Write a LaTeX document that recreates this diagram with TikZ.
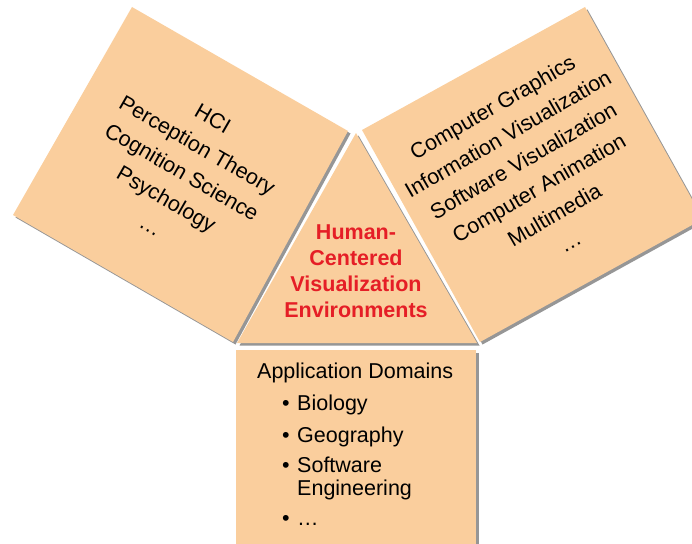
\documentclass[tikz,border=0pt]{standalone}
\usepackage{fontspec}
\setmainfont{Liberation Sans}
\definecolor{peach}{RGB}{250,206,157}
\definecolor{shade}{RGB}{150,150,150}
\definecolor{hcred}{RGB}{229,30,38}
\begin{document}
\begin{tikzpicture}[x=1pt,y=-1pt,
  panel/.style={fill=peach},
  shadowed/.style={fill=shade, shift={(2.5,2.5)}},
  body/.style={font=\fontsize{21.5}{31}\selectfont, align=center, inner sep=0pt},
  core/.style={font=\fontsize{21.5}{26}\selectfont\bfseries, align=center, inner sep=0pt, text=hcred},
  item/.style={font=\fontsize{21.5}{24}\selectfont, inner sep=0pt, anchor=base west}]
\useasboundingbox (0,0) rectangle (692,543);
\clip (0,0) rectangle (692,543);
% shadows
\fill[shadowed] (132,7) -- (13,215) -- (233,342) -- (348,131) -- cycle;
\fill[shadowed] (585,7) -- (362,130) -- (480,342) -- (703,219) -- cycle;
\fill[shadowed] (356,133) -- (237,343) -- (477,343) -- cycle;
\fill[shadowed] (236,350) rectangle (476,560);
% panels
\fill[panel] (132,7) -- (13,215) -- (233,342) -- (348,131) -- cycle;
\fill[panel] (585,7) -- (362,130) -- (480,342) -- (703,219) -- cycle;
\fill[panel] (356,133) -- (237,343) -- (477,343) -- cycle;
\fill[panel] (236,350) rectangle (476,560);
% texts
\node[body, rotate=-30] (hci) at (182,172) {HCI\\Perception Theory\\Cognition Science\\Psychology\\…};
\node[body, rotate=30] (cg) at (531,174) {Computer Graphics\\Information Visualization\\Software Visualization\\Computer Animation\\Multimedia\\…};
\node[core] (hcve) at (356,271) {Human-\\Centered\\Visualization\\Environments};
\node[item] (app) at (257,378) {Application Domains};
\node[item] (b1) at (282,410) {•};
\node[item] (t1) at (297,410) {Biology};
\node[item] (b2) at (282,442) {•};
\node[item] (t2) at (297,442) {Geography};
\node[item] (b3) at (282,472) {•};
\node[item] (t3) at (297,472) {Software};
\node[item] (t3b) at (297,495) {Engineering};
\node[item] (b4) at (282,525) {•};
\node[item] (t4) at (297,525) {…};
\end{tikzpicture}
\end{document}
